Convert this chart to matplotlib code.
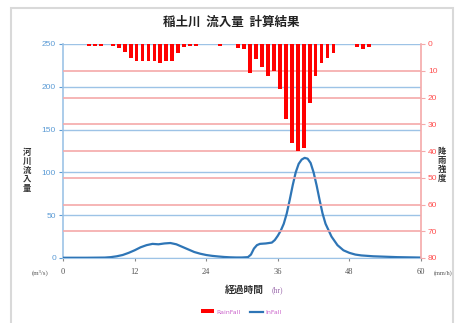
import matplotlib
matplotlib.use("Agg")
import matplotlib.pyplot as plt
from matplotlib.patches import Rectangle
from matplotlib.lines import Line2D
from matplotlib.patches import Patch

plt.rcParams['font.family'] = ['Noto Sans CJK JP', 'DejaVu Sans']

# ---- data ----
title = "稲土川  流入量  計算結果"
rain_hours = [4, 5, 6, 8, 9, 10, 11, 12, 13, 14, 15, 16, 17, 18, 19, 20, 21, 22, 26,
              29, 30, 31, 32, 33, 34, 35, 36, 37, 38, 39, 40, 41, 42, 43, 44, 45,
              49, 50, 51]
rain_values = [0.6, 0.6, 0.6, 0.8, 1.5, 3.0, 5.4, 6.2, 6.2, 6.2, 6.2, 7.0, 6.2, 6.2, 3.5, 1.3, 0.8, 0.6, 0.6,
               1.5, 2.0, 11.0, 5.5, 8.5, 12.0, 10.0, 17.0, 28.0, 37.0, 40.0, 39.0, 22.0, 12.0, 7.0, 5.4, 3.2,
               1.0, 2.0, 1.0]

inflow_hours = [0, 4, 7, 8, 9, 10, 11, 12, 13, 14, 15, 16, 17, 18, 19, 20, 21, 22, 23, 24, 25, 26, 27,
                28, 29, 30, 31, 31.5, 32, 32.5, 33, 34, 35, 35.5, 36, 36.5, 37, 37.5, 38, 38.5, 39,
                39.5, 40, 40.5, 41, 41.5, 42, 42.5, 43, 43.5, 44, 45, 46, 47, 48, 49, 50, 52, 54, 56, 60]
inflow_values = [0.3, 0.3, 0.5, 1.0, 2.0, 3.5, 6.0, 9.0, 12.5, 15.0, 16.5, 16.0, 17.0, 17.5, 16.0, 13.0, 10.0,
                 7.0, 5.0, 3.5, 2.5, 1.8, 1.2, 0.8, 0.6, 0.6, 1.0, 4.0, 11.0, 15.0, 16.5, 17.0, 18.0, 21.0,
                 26.0, 32.0, 40.0, 52.0, 68.0, 85.0, 100.0, 110.0, 115.0, 117.0, 116.0, 111.0, 100.0,
                 85.0, 68.0, 52.0, 40.0, 25.0, 15.0, 9.0, 6.0, 4.0, 3.0, 2.0, 1.5, 1.0, 0.5]

x_ticks = [0, 12, 24, 36, 48, 60]
left_ticks = [0, 50, 100, 150, 200, 250]
right_ticks = [0, 10, 20, 30, 40, 50, 60, 70, 80]

W, H = 457, 323
fig = plt.figure(figsize=(W / 100, H / 100), dpi=100)
fig.patch.set_facecolor('white')

# frame of the screenshot
fig.patches.append(Rectangle((11 / W, -0.05), (453 - 11) / W, 1 - 8 / H + 0.05,
                             transform=fig.transFigure, fill=False,
                             edgecolor='#d9d9d9', linewidth=1.5))

ax1 = fig.add_axes([63 / W, 1 - 258 / H, (421 - 63) / W, (258 - 44) / H])
ax2 = ax1.twinx()

blue_grid = '#9dc3e6'
red_grid = '#f5a9a9'
blue_txt = '#5b9bd5'
red_txt = '#ff5050'

# inflow line
ax1.plot(inflow_hours, inflow_values, color='#2e75b6', linewidth=1.6, zorder=3)
ax1.set_xlim(0, 60)
ax1.set_ylim(0, 250)
ax1.set_xticks(x_ticks)
ax1.set_yticks(left_ticks)
ax1.yaxis.grid(True, color=blue_grid, linewidth=1.0)
ax1.set_axisbelow(True)
ax1.tick_params(axis='y', colors=blue_txt, labelsize=6, length=3, width=0.8, pad=2)
ax1.tick_params(axis='x', colors='#888888', labelcolor='#555555', labelsize=6, length=2, pad=5)
for lab in ax1.get_xticklabels():
    lab.set_family('Liberation Serif')
for lab in ax1.get_yticklabels():
    lab.set_family('Liberation Sans')
ax1.spines['top'].set_visible(False)
ax1.spines['left'].set_color(blue_grid)
ax1.spines['left'].set_linewidth(1.2)
ax1.spines['bottom'].set_color(blue_grid)
ax1.spines['right'].set_visible(False)

# rainfall bars
ax2.bar(rain_hours, rain_values, width=0.65, align='edge', color='#ff0000', zorder=3)
ax2.set_ylim(80, 0)
ax2.set_yticks(right_ticks)
ax2.yaxis.grid(True, color=red_grid, linewidth=1.2)
ax2.set_axisbelow(True)
ax2.tick_params(axis='y', colors=red_grid, labelcolor=red_txt, labelsize=6, length=3, width=0.8, pad=2)
for lab in ax2.get_yticklabels():
    lab.set_family('Liberation Sans')
ax2.spines['right'].set_color(red_grid)
ax2.spines['right'].set_linewidth(1.2)
for s in ['top', 'left', 'bottom']:
    ax2.spines[s].set_visible(False)
# hide red grid at 0 and 80 (blue lines there)
gl = ax2.yaxis.get_gridlines()
gl[0].set_visible(False)
gl[-1].set_visible(False)

# texts
fig.text(231 / W, 1 - 22 / H, title, ha='center', va='center', fontsize=9,
         fontweight='bold', color='#222222')
fig.text(27 / W, 1 - 170 / H, "\n".join("河川流入量"), ha='center', va='center',
         fontsize=6, fontweight='bold', color='#333333', linespacing=1.0)
fig.text(442 / W, 1 - 165 / H, "\n".join("降雨強度"), ha='center', va='center',
         fontsize=6, fontweight='bold', color='#333333', linespacing=1.0)
fig.text(40 / W, 1 - 273 / H, "(m³/s)", ha='center', va='center', fontsize=5,
         color='#555555', family=['Liberation Serif', 'DejaVu Sans'])
fig.text(434 / W, 1 - 273 / H, "(mm/h)", ha='left', va='center', fontsize=4.5,
         color='#555555', family=['Liberation Serif', 'DejaVu Sans'])
fig.text(244 / W, 1 - 290 / H, "経過時間", ha='center', va='center', fontsize=7,
         fontweight='bold', color='#333333')
fig.text(277 / W, 1 - 290 / H, "(hr)", ha='center', va='center', fontsize=5.5,
         color='#9966aa', family=['Liberation Serif', 'DejaVu Sans'])

# legend
handles = [Patch(facecolor='#ff0000', edgecolor='none'),
           Line2D([0], [0], color='#2e75b6', linewidth=1.6)]
leg = fig.legend(handles, ['RainFall', 'InFall'], loc='center',
                 bbox_to_anchor=(241 / W, 1 - 312 / H), ncol=2, frameon=False,
                 fontsize=4.5, handlelength=2.2, handleheight=0.6, columnspacing=1.5,
                 handletextpad=0.3)
for t in leg.get_texts():
    t.set_color('#cc66cc')
    t.set_family('DejaVu Sans')

fig.savefig('out.png', dpi=100)
